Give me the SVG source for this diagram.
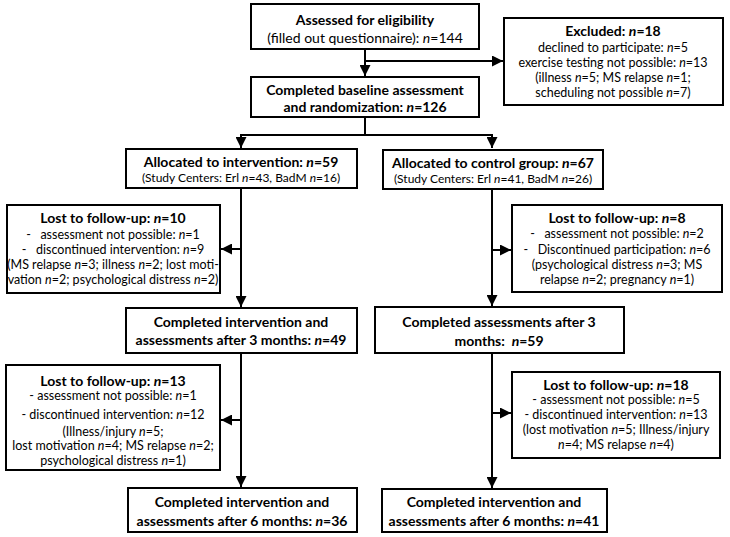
<svg xmlns="http://www.w3.org/2000/svg" width="730" height="537" viewBox="0 0 730 537">
<defs>
<marker id="ah" viewBox="0 0 10 10" refX="10" refY="5" markerWidth="5.5" markerHeight="5.5" orient="auto" markerUnits="strokeWidth">
<path d="M0,0 L10,5 L0,10 Z" fill="#000"/>
</marker>
<style>
rect{fill:#fff;stroke:#000;stroke-width:2}
text{font-family:Lato,"Open Sans","Liberation Sans",sans-serif;fill:#000;text-anchor:middle}
.b{font-weight:bold;font-size:14px}
.t{font-size:12.5px}
.m{font-size:14px}
.s{font-size:12px}
.i{font-style:italic}
.c{fill:none;stroke:#000;stroke-width:2}
.a{marker-end:url(#ah)}
</style>
</defs>
<rect x="0" y="0" width="730" height="537" style="fill:#fff;stroke:none"/>
<g id="connectors">
<path class="c a" d="M365,49 V76"/>
<path class="c a" d="M365,61 H503"/>
<path class="c" d="M365,117 V135 M241,135 H492"/>
<path class="c a" d="M241,134 V148"/>
<path class="c a" d="M492,134 V148"/>
<path class="c a" d="M241,189 V307"/>
<path class="c a" d="M241,249 H221"/>
<path class="c a" d="M492,189 V306"/>
<path class="c a" d="M492,250 H511"/>
<path class="c a" d="M241,353 V487"/>
<path class="c a" d="M241,420 H221"/>
<path class="c a" d="M492,353 V488"/>
<path class="c a" d="M492,413 H511"/>
</g>
<g id="assessed">
<rect x="251" y="4" width="228" height="45"/>
<text class="b" x="365" y="25">Assessed for eligibility</text>
<text class="m" x="365" y="43">(filled out questionnaire): <tspan class="i">n</tspan>=144</text>
</g>
<g id="excluded">
<rect x="504" y="18" width="219" height="87"/>
<text class="b" x="613" y="36"><tspan>Excluded: </tspan><tspan class="i">n</tspan>=18</text>
<text class="t" x="613" y="52">declined to participate: <tspan class="i">n</tspan>=5</text>
<text class="t" x="613" y="67">exercise testing not possible: <tspan class="i">n</tspan>=13</text>
<text class="t" x="613" y="82">(illness <tspan class="i">n</tspan>=5; MS relapse <tspan class="i">n</tspan>=1;</text>
<text class="t" x="613" y="97">scheduling not possible <tspan class="i">n</tspan>=7)</text>
</g>
<g id="baseline">
<rect x="251" y="77" width="228" height="40"/>
<text class="b" x="365" y="95">Completed baseline assessment</text>
<text class="b" x="365" y="112">and randomization: <tspan class="i">n</tspan>=126</text>
</g>
<g id="alloc-int">
<rect x="126" y="149" width="231" height="39"/>
<text class="b" x="241" y="167">Allocated to intervention: <tspan class="i">n</tspan>=59</text>
<text class="s" x="241" y="182">(Study Centers: Erl <tspan class="i">n</tspan>=43, BadM <tspan class="i">n</tspan>=16)</text>
</g>
<g id="alloc-ctrl">
<rect x="383" y="150" width="220" height="39"/>
<text class="b" x="493" y="168">Allocated to control group: <tspan class="i">n</tspan>=67</text>
<text class="s" x="493" y="183">(Study Centers: Erl <tspan class="i">n</tspan>=41, BadM <tspan class="i">n</tspan>=26)</text>
</g>
<g id="lost-int-1">
<rect x="7" y="205" width="213" height="88"/>
<text class="b" x="113" y="223">Lost to follow-up: <tspan class="i">n</tspan>=10</text>
<text class="t" x="113" y="239" xml:space="preserve">-   assessment not possible: <tspan class="i">n</tspan>=1</text>
<text class="t" x="113" y="254" xml:space="preserve">-   discontinued intervention: <tspan class="i">n</tspan>=9</text>
<text class="t" x="113" y="269">(MS relapse <tspan class="i">n</tspan>=3; illness <tspan class="i">n</tspan>=2; lost moti-</text>
<text class="t" x="113" y="284">vation <tspan class="i">n</tspan>=2; psychological distress <tspan class="i">n</tspan>=2)</text>
</g>
<g id="lost-ctrl-1">
<rect x="512" y="205" width="210" height="87"/>
<text class="b" x="617" y="223">Lost to follow-up: <tspan class="i">n</tspan>=8</text>
<text class="t" x="617" y="238" xml:space="preserve">-   assessment not possible: <tspan class="i">n</tspan>=2</text>
<text class="t" x="617" y="254" xml:space="preserve">-   Discontinued participation: <tspan class="i">n</tspan>=6</text>
<text class="t" x="617" y="269">(psychological distress <tspan class="i">n</tspan>=3; MS</text>
<text class="t" x="617" y="284">relapse <tspan class="i">n</tspan>=2; pregnancy <tspan class="i">n</tspan>=1)</text>
</g>
<g id="completed-int-3">
<rect x="126" y="308" width="231" height="45"/>
<text class="b" x="241" y="327">Completed intervention and</text>
<text class="b" x="241" y="345">assessments after 3 months: <tspan class="i">n</tspan>=49</text>
</g>
<g id="completed-ctrl-3">
<rect x="375" y="307" width="249" height="46"/>
<text class="b" x="499" y="327">Completed assessments after 3</text>
<text class="b" x="499" y="346" xml:space="preserve">months:  <tspan class="i">n</tspan>=59</text>
</g>
<g id="lost-int-2">
<rect x="6" y="365" width="214" height="105"/>
<text class="b" x="113" y="386">Lost to follow-up: <tspan class="i">n</tspan>=13</text>
<text class="t" x="113" y="400">- assessment not possible: <tspan class="i">n</tspan>=1</text>
<text class="t" x="113" y="419">- discontinued intervention: <tspan class="i">n</tspan>=12</text>
<text class="t" x="113" y="436">(Illness/injury <tspan class="i">n</tspan>=5;</text>
<text class="t" x="113" y="450">lost motivation <tspan class="i">n</tspan>=4; MS relapse <tspan class="i">n</tspan>=2;</text>
<text class="t" x="113" y="465">psychological distress <tspan class="i">n</tspan>=1)</text>
</g>
<g id="lost-ctrl-2">
<rect x="512" y="372" width="208" height="86"/>
<text class="b" x="616" y="390">Lost to follow-up: <tspan class="i">n</tspan>=18</text>
<text class="t" x="616" y="404">- assessment not possible: <tspan class="i">n</tspan>=5</text>
<text class="t" x="616" y="419">- discontinued intervention: <tspan class="i">n</tspan>=13</text>
<text class="t" x="616" y="434">(lost motivation <tspan class="i">n</tspan>=5; Illness/injury</text>
<text class="t" x="616" y="449"><tspan class="i">n</tspan>=4; MS relapse <tspan class="i">n</tspan>=4)</text>
</g>
<g id="completed-int-6">
<rect x="128" y="488" width="229" height="44"/>
<text class="b" x="242" y="507">Completed intervention and</text>
<text class="b" x="242" y="526">assessments after 6 months: <tspan class="i">n</tspan>=36</text>
</g>
<g id="completed-ctrl-6">
<rect x="382" y="489" width="225" height="43"/>
<text class="b" x="494" y="507">Completed intervention and</text>
<text class="b" x="494" y="526">assessments after 6 months: <tspan class="i">n</tspan>=41</text>
</g>
</svg>
